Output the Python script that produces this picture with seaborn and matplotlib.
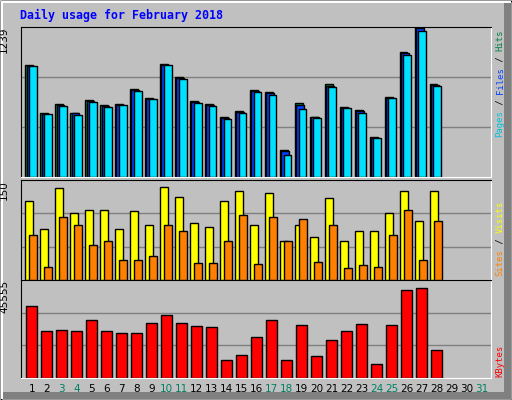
import matplotlib
matplotlib.use("Agg")
import matplotlib.pyplot as plt
import seaborn as sns
import numpy as np
from matplotlib.patches import Rectangle

sns.set_style("white")

days = list(range(1, 29))
hits = [920, 523, 597, 531, 630, 589, 597, 721, 647, 928, 820, 622, 597, 490,
        540, 713, 697, 226, 606, 498, 763, 573, 548, 333, 655, 1027, 1239, 763]
files = [912, 515, 589, 523, 622, 581, 589, 713, 639, 920, 812, 614, 589, 482,
         532, 705, 689, 217, 589, 490, 746, 565, 540, 325, 647, 1019, 1225, 755]
pages = [911, 515, 581, 507, 614, 573, 589, 705, 639, 920, 804, 606, 581, 474,
         531, 697, 672, 184, 556, 482, 738, 564, 531, 325, 647, 1002, 1200, 746]
visits = [118, 76, 138, 100, 105, 105, 77, 103, 82, 139, 124, 85, 80, 118,
          133, 83, 130, 59, 82, 64, 123, 59, 73, 73, 100, 133, 89, 133]
sites = [68, 20, 94, 82, 53, 59, 30, 30, 36, 83, 73, 26, 26, 59,
         98, 24, 94, 58, 92, 27, 82, 18, 23, 20, 68, 105, 30, 89]
kbytes = [33290, 21780, 22240, 21780, 26840, 21780, 20860, 20860, 25460, 29140,
          25460, 24080, 23620, 7980, 10740, 19020, 26840, 7980, 24540, 9820,
          17640, 21780, 25000, 6140, 24540, 41110, 42030, 13040]
day_labels = [str(d) for d in range(1, 32)]
weekend = [3, 4, 10, 11, 17, 18, 24, 25, 31]

W, H = 512, 400
BG = "#C0C0C0"
fig = plt.figure(figsize=(W / 100, H / 100), dpi=100)
fig.patch.set_facecolor(BG)

def px(x0, y0, x1, y1):
    return [x0 / W, 1 - y1 / H, (x1 - x0) / W, (y1 - y0) / H]

# bevelled frame
fa = fig.add_axes([0, 0, 1, 1])
fa.set_xlim(0, W); fa.set_ylim(H, 0); fa.axis("off")
fa.add_patch(Rectangle((0.5, 0.5), W - 1, H - 1, fill=False, ec="black", lw=1))
fa.add_patch(Rectangle((1, 1), W - 2, 2, color="white", lw=0))
fa.add_patch(Rectangle((1, 1), 2, H - 2, color="white", lw=0))
fa.add_patch(Rectangle((W - 8, 3), 7, H - 4, color="#808080", lw=0))
fa.add_patch(Rectangle((3, H - 8), W - 4, 7, color="#808080", lw=0))
fa.text(20, 15, "Daily usage for February 2018", color="#0000FF", fontsize=8.4,
        family="DejaVu Sans Mono", fontweight="bold", va="center", ha="left")

XL = (0.25, 31.6)

def panel(y0, y1, vmax, label):
    ax = fig.add_axes(px(20.7, y0, 490.7, y1))
    ax.set_facecolor(BG)
    ax.set_xlim(*XL); ax.set_ylim(0, vmax)
    for g in (vmax / 3, 2 * vmax / 3):
        ax.axhline(g, color="#808080", lw=1, zorder=0)
    ax.set_xticks([]); ax.set_yticks([])
    for s in ("left", "top"):
        ax.spines[s].set_color("black")
    for s in ("right", "bottom"):
        ax.spines[s].set_color("white")
    ax.text(-0.025, 1.0, label, transform=ax.transAxes, rotation=90,
            ha="right", va="top", fontsize=7.5, color="black")
    return ax

def bars(ax, vals, off, width, color):
    x = np.array(days) + off
    ax.bar(x, vals, width=width, align="edge", color=color, ec="black", lw=1, zorder=2)

ax1 = panel(26.5, 177, 1239, "1239")
bars(ax1, hits, -0.45, 0.5, "#008040")
bars(ax1, files, -0.36, 0.5, "#0040FF")
bars(ax1, pages, -0.22, 0.53, "#00E0FF")

ax2 = panel(180, 280, 150, "150")
bars(ax2, visits, -0.45, 0.53, "#FFFF00")
bars(ax2, sites, -0.18, 0.5, "#FF8000")

ax3 = panel(280, 377.5, 45555, "45555")
bars(ax3, kbytes, -0.38, 0.7, "#FF0000")

# day labels
for i, lab in enumerate(day_labels, start=1):
    xf = 20.7 + (i - XL[0]) / (XL[1] - XL[0]) * 470
    fa.text(xf, 389, lab, ha="center", va="center", fontsize=7.5,
            color="#008060" if i in weekend else "black")

# right-side legends built bottom-up
def side(y_bottom, parts):
    y = y_bottom
    for txt, col in parts:
        fa.text(500, y, txt, rotation=90, ha="center", va="bottom", color=col,
                fontsize=6.4, family="DejaVu Sans Mono")
        y -= len(txt) * 5.35

side(137, [("Pages", "#00C0E0"), (" / ", "black"), ("Files", "#0040FF"),
           (" / ", "black"), ("Hits", "#008040")])
side(276, [("Sites", "#FF8000"), (" / ", "black"), ("Visits", "#FFFF00")])
side(377, [("KBytes", "#FF0000")])

fig.savefig("out.png", dpi=100, facecolor=BG)
